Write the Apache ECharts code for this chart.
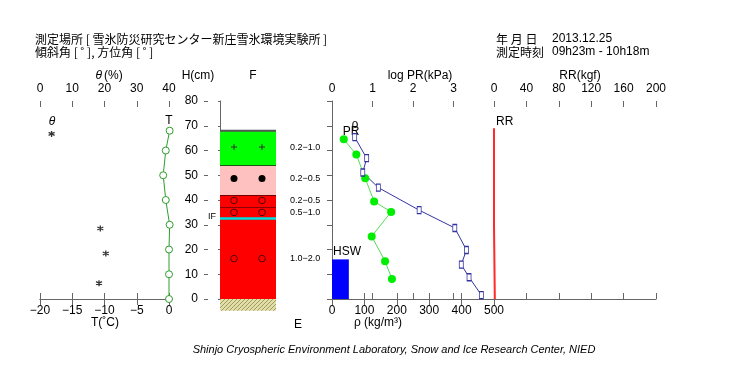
<!DOCTYPE html>
<html><head><meta charset="utf-8">
<script src="https://cdn.jsdelivr.net/npm/echarts@6/dist/echarts.min.js"></script>
<style>html,body{margin:0;padding:0;background:#fff}#c{width:730px;height:380px}</style>
</head><body><div id="c"></div>
<script>
// ---------- data ----------
const thetaH = [66.7, 28.5, 18.4, 6.4];
const thetaVal = [3.6, 18.7, 20.4, 18.3];
const tempH = [0, 10, 20, 30, 40, 50, 60, 68];
const tempVal = [0, 0, 0, 0.1, -0.5, -0.9, -0.5, 0.1];
const prH = [64.5, 58.4, 48.8, 39.4, 35.2, 25.3, 15.3, 8.1];
const logPR = [0.29, 0.6, 0.82, 1.04, 1.46, 0.98, 1.31, 1.48];
const rhoH = [65.4, 56.9, 51.1, 45, 35.9, 28.7, 19.8, 13.9, 8.8, 1.6];
const rhoVal = [70, 107, 95, 143, 269, 379, 415, 399, 423, 461];
const layerBottom = [0, 32.5, 37, 42, 54];
const layerTop = [32.5, 37, 42, 54, 68];
const grainShape = ['o', 'o', 'o', '●', '+'];
const grainSize = ['1.0−2.0', '0.5−1.0', '0.2−0.5', '0.2−0.5', '0.2−1.0'];
const markerH = [16.3, 35, 39.8, 48.7, 61.4];
const iceLayerH = [32.5];
const groundDepth = 4.7;
const hswHeight = 16;
const hswRho = 52;
const rrH = [69, 30, 30, 0];
const rrVal = [0, 0, 1, 1];
const thetaTicks = [0, 40, 10];
const tempTicks = [-20, 0, 5];
const hTicks = [0, 80, 10];
const prTicks = [0, 4, 1];
const rhoTicks = [0, 500, 100];
const rrTicks = [0, 200, 40];

// ---------- style ----------
const FONT = '"Liberation Sans", Arial, sans-serif';
const JFONT = '"Noto Sans CJK JP", "Liberation Sans", sans-serif';
const AX = '#666';
const shapeColor = { 'o': '#ff0000', '●': '#ffc0c0', '+': '#00ff00' };
const TOP = 101, HEIGHT = 198;

const fmtMinus = v => String(v).replace('-', '−');

function valAxis(grid, pos, t, labels, inside, extra) {
  return Object.assign({
    gridIndex: grid, type: 'value', position: pos,
    min: t[0], max: t[1], interval: t[2],
    axisLine: { show: !inside, lineStyle: { color: AX, width: 1 } },
    axisTick: { show: true, inside: inside, length: 6, lineStyle: { color: AX } },
    axisLabel: { show: labels, color: '#000', fontSize: 12, fontFamily: FONT, margin: 6, formatter: fmtMinus },
    splitLine: { show: false }
  }, extra || {});
}

const pc = document.createElement('canvas');
pc.width = 4; pc.height = 4;
const pctx = pc.getContext('2d');
pctx.fillStyle = '#e2deaa'; pctx.fillRect(0, 0, 4, 4);
pctx.fillStyle = '#a09c60';
for (let i = 0; i < 4; i++) pctx.fillRect(i, 3 - i, 1, 1);

const chart = echarts.init(document.getElementById('c'), null, { renderer: 'canvas' });

const grids = [
  { left: 40, top: TOP, width: 129, height: HEIGHT },
  { left: 220, top: TOP, width: 56, height: HEIGHT },
  { left: 332, top: TOP, width: 162, height: HEIGHT },
  { left: 494, top: TOP, width: 162, height: HEIGHT }
].map(g => Object.assign({ containLabel: false, outerBoundsMode: 'none', show: false }, g));

const xAxes = [
  valAxis(0, 'top', thetaTicks, true, false),
  valAxis(0, 'top', thetaTicks, false, true),
  valAxis(0, 'bottom', tempTicks, true, false),
  valAxis(0, 'bottom', tempTicks, false, true),
  { gridIndex: 1, type: 'value', min: 0, max: 1, show: false },
  valAxis(2, 'top', prTicks, true, false, { axisLabel: { color: '#000', fontSize: 12, fontFamily: FONT, margin: 6, formatter: v => v === 4 ? '' : String(v) } }),
  valAxis(2, 'top', prTicks, false, true),
  valAxis(2, 'bottom', rhoTicks, true, false),
  valAxis(2, 'bottom', rhoTicks, false, true),
  valAxis(3, 'top', rrTicks, true, false),
  valAxis(3, 'top', rrTicks, false, true)
];

const yAxes = [
  { gridIndex: 0, type: 'value', min: 0, max: 80, show: false },
  valAxis(1, 'left', hTicks, true, false, { offset: 16, axisTick: { show: true, inside: false, length: 2, lineStyle: { color: AX } } }),
  valAxis(1, 'left', hTicks, false, true, { offset: 16, axisTick: { show: true, inside: true, length: 4, lineStyle: { color: AX } } }),
  valAxis(2, 'right', hTicks, false, false, { axisTick: { show: true, inside: true, length: 5, lineStyle: { color: AX } } }),
  { gridIndex: 3, type: 'value', min: 0, max: 80, show: false }
];

const asterisk = 'path://M0,-5L0,5M-4.33,-2.5L4.33,2.5M-4.33,2.5L4.33,-2.5';

const series = [
  {
    type: 'scatter', xAxisIndex: 0, yAxisIndex: 0, clip: false,
    data: thetaVal.map((v, i) => [v, thetaH[i]]),
    symbol: asterisk, symbolSize: 6,
    itemStyle: { color: 'none', borderColor: '#000', borderWidth: 1.3 }
  },
  {
    type: 'line', xAxisIndex: 2, yAxisIndex: 0, clip: false,
    data: tempVal.map((v, i) => [v, tempH[i]]),
    symbol: 'circle', symbolSize: 7, showAllSymbol: true,
    itemStyle: { color: '#fff', borderColor: '#2e9e2e', borderWidth: 1 },
    lineStyle: { color: '#2e9e2e', width: 1 }
  },
  {
    type: 'custom', xAxisIndex: 4, yAxisIndex: 1,
    data: [[0, groundDepth]],
    renderItem: (params, api) => {
      const a = api.coord([0, 0]);
      const b = api.coord([1, -api.value(1)]);
      return { type: 'rect', shape: { x: a[0], y: a[1], width: b[0] - a[0], height: b[1] - a[1] },
        style: { fill: { image: pc, repeat: 'repeat' } } };
    }
  },
  {
    type: 'custom', xAxisIndex: 4, yAxisIndex: 1,
    data: layerBottom.map((b, i) => [b, layerTop[i], markerH[i], i]),
    renderItem: (params, api) => {
      const i = api.value(3);
      const a = api.coord([0, api.value(1)]);
      const b = api.coord([1, api.value(0)]);
      const m1 = api.coord([0.25, api.value(2)]);
      const m2 = api.coord([0.75, api.value(2)]);
      const shape = grainShape[i];
      const isTop = i === layerTop.length - 1;
      const children = [
        { type: 'rect', shape: { x: a[0], y: a[1], width: b[0] - a[0], height: b[1] - a[1] }, style: { fill: shapeColor[shape] } },
        { type: 'line', shape: { x1: a[0], y1: a[1], x2: b[0], y2: a[1] }, style: { stroke: isTop ? '#555' : '#000', lineWidth: isTop ? 2 : 1 } }
      ];
      [m1, m2].forEach(p => {
        if (shape === 'o') children.push({ type: 'circle', shape: { cx: p[0], cy: p[1], r: 3.3 }, style: { fill: 'none', stroke: '#500', lineWidth: 1 } });
        else if (shape === '●') children.push({ type: 'circle', shape: { cx: p[0], cy: p[1], r: 3.5 }, style: { fill: '#000' } });
        else children.push({ type: 'path', shape: { pathData: `M${p[0] - 3},${p[1]}L${p[0] + 3},${p[1]}M${p[0]},${p[1] - 3}L${p[0]},${p[1] + 3}` }, style: { fill: 'none', stroke: '#333', lineWidth: 1 } });
      });
      children.push({ type: 'text', style: { x: b[0] + 14, y: m1[1], text: grainSize[i], fill: '#000', font: '9px ' + FONT, verticalAlign: 'middle', align: 'left' } });
      return { type: 'group', children };
    }
  },
  {
    type: 'custom', xAxisIndex: 4, yAxisIndex: 1,
    data: iceLayerH.map(h => [0, h]),
    renderItem: (params, api) => {
      const a = api.coord([0, api.value(1)]);
      const b = api.coord([1, api.value(1)]);
      return { type: 'group', children: [
        { type: 'line', shape: { x1: a[0], y1: a[1], x2: b[0], y2: b[1] }, style: { stroke: '#00dede', lineWidth: 2.5 } },
        { type: 'text', style: { x: a[0] - 4, y: a[1] - 2, text: 'IF', fill: '#000', font: '9px ' + FONT, align: 'right', verticalAlign: 'middle' } }
      ] };
    }
  },
  {
    type: 'custom', xAxisIndex: 7, yAxisIndex: 3,
    data: [[0, hswRho, 0, hswHeight]],
    renderItem: (params, api) => {
      const a = api.coord([api.value(0), api.value(3)]);
      const b = api.coord([api.value(1), api.value(2)]);
      return { type: 'group', children: [
        { type: 'rect', shape: { x: a[0], y: a[1], width: b[0] - a[0], height: b[1] - a[1] }, style: { fill: '#0000ff' } },
        { type: 'text', style: { x: a[0] + 1, y: a[1] - 8, text: 'HSW', fill: '#000', font: '12px ' + FONT, align: 'left', verticalAlign: 'middle' } }
      ] };
    }
  },
  {
    type: 'line', xAxisIndex: 5, yAxisIndex: 3, clip: false,
    data: logPR.map((v, i) => [v, prH[i]]),
    symbol: 'circle', symbolSize: 8, showAllSymbol: true,
    itemStyle: { color: '#00ee00' },
    lineStyle: { color: '#55dd55', width: 1 }
  },
  {
    type: 'line', xAxisIndex: 7, yAxisIndex: 3, clip: false,
    data: rhoVal.map((v, i) => [v, rhoH[i]]),
    symbol: 'rect', symbolSize: [4, 7], showAllSymbol: true,
    itemStyle: { color: '#fff', borderColor: '#3333a0', borderWidth: 1 },
    lineStyle: { color: '#3333a0', width: 1 }
  },
  {
    type: 'line', xAxisIndex: 9, yAxisIndex: 4, clip: false,
    data: rrVal.map((v, i) => [v, rrH[i]]),
    symbol: 'none',
    lineStyle: { color: '#ff2a2a', width: 2 }
  }
];

function txt(x, y, text, opts) {
  return { type: 'text', x: x, y: y, silent: true,
    style: Object.assign({ text: text, fill: '#000', font: '12px ' + FONT, align: 'center', verticalAlign: 'middle' }, opts || {}) };
}

const graphic = [
  txt(35, 39, '測定場所 [ 雪氷防災研究センター新庄雪氷環境実験所 ]', { align: 'left', font: '12px ' + JFONT }),
  txt(35, 52, '傾斜角 [ ˚ ], 方位角 [ ˚ ]', { align: 'left', font: '12px ' + JFONT }),
  txt(496, 39, '年 月 日', { align: 'left', font: '12px ' + JFONT }),
  txt(552, 39, '2013.12.25', { align: 'left' }),
  txt(496, 52, '測定時刻', { align: 'left', font: '12px ' + JFONT }),
  txt(552, 52, '09h23m - 10h18m', { align: 'left' }),
  txt(104, 76, '(%)', { align: 'left' }),
  txt(102, 76, 'θ', { align: 'right', font: 'italic 12px ' + FONT }),
  txt(198, 76, 'H(cm)'),
  txt(253, 76, 'F'),
  txt(420, 76, 'log PR(kPa)'),
  txt(580, 76, 'RR(kgf)'),
  txt(52, 122, 'θ', { font: 'italic 12px ' + FONT }),
  txt(169, 121, 'T'),
  txt(355, 125, 'ρ'),
  txt(351, 132, 'PR'),
  txt(496, 122, 'RR', { align: 'left' }),
  txt(105, 323, 'T(˚C)'),
  txt(298, 325, 'E'),
  txt(378, 323, 'ρ (kg/m³)'),
  txt(394, 350, 'Shinjo Cryospheric Environment Laboratory, Snow and Ice Research Center, NIED', { font: 'italic 11px ' + FONT })
];

chart.setOption({
  animation: false,
  backgroundColor: '#fff',
  grid: grids,
  xAxis: xAxes,
  yAxis: yAxes,
  series: series,
  graphic: graphic
});
</script></body></html>
